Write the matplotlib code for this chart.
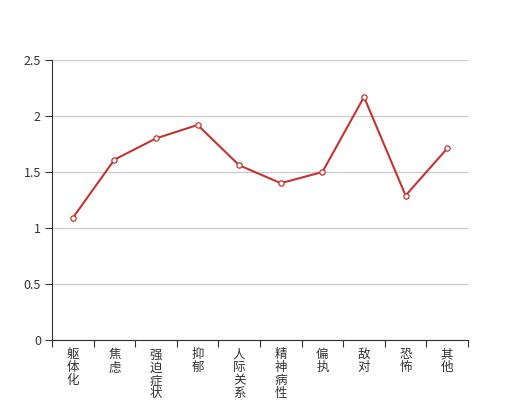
import matplotlib
matplotlib.use('Agg')
import matplotlib.pyplot as plt

plt.rcParams['font.family'] = ['Noto Sans CJK SC', 'DejaVu Sans']

categories = ['躯体化', '焦虑', '强迫症状', '抑郁', '人际关系敏感',
              '精神病性', '偏执', '敌对', '恐怖', '其他']
scores = [1.09, 1.61, 1.80, 1.92, 1.56, 1.40, 1.50, 2.17, 1.29, 1.71]
y_ticks = [0, 0.5, 1, 1.5, 2, 2.5]
y_tick_labels = ['0', '0.5', '1', '1.5', '2', '2.5']

fig = plt.figure(figsize=(5.2, 4), dpi=100)
ax = fig.add_axes([0.1, 0.15, 0.8, 0.7])

x = [i + 0.5 for i in range(len(categories))]
ax.plot(x, scores, color='#c23531', lw=1.5, marker='o', markersize=3.8,
        markerfacecolor='white', markeredgecolor='#c23531', markeredgewidth=0.9,
        zorder=3, clip_on=False)

ax.set_xlim(0, len(categories))
ax.set_ylim(0, 2.5)
ax.set_yticks(y_ticks)
ax.set_yticklabels(y_tick_labels)
ax.grid(axis='y', color='#cccccc', lw=1)
ax.set_axisbelow(True)

# category boundaries carry the ticks, labels sit between them
ax.set_xticks(range(len(categories) + 1))
ax.set_xticklabels([])
ax.set_xticks(x, minor=True)
ax.set_xticklabels(['\n'.join(c) for c in categories], minor=True,
                   va='top', linespacing=1.0)
ax.tick_params(axis='x', which='minor', length=0, pad=6, labelsize=9,
               labelcolor='#333333')
ax.tick_params(axis='x', which='major', length=5, color='#333333')
ax.tick_params(axis='y', length=5, color='#333333', labelsize=9,
               labelcolor='#333333', pad=3)

for s in ['top', 'right']:
    ax.spines[s].set_visible(False)
for s in ['left', 'bottom']:
    ax.spines[s].set_color('#333333')

fig.savefig('out.png', dpi=100)
